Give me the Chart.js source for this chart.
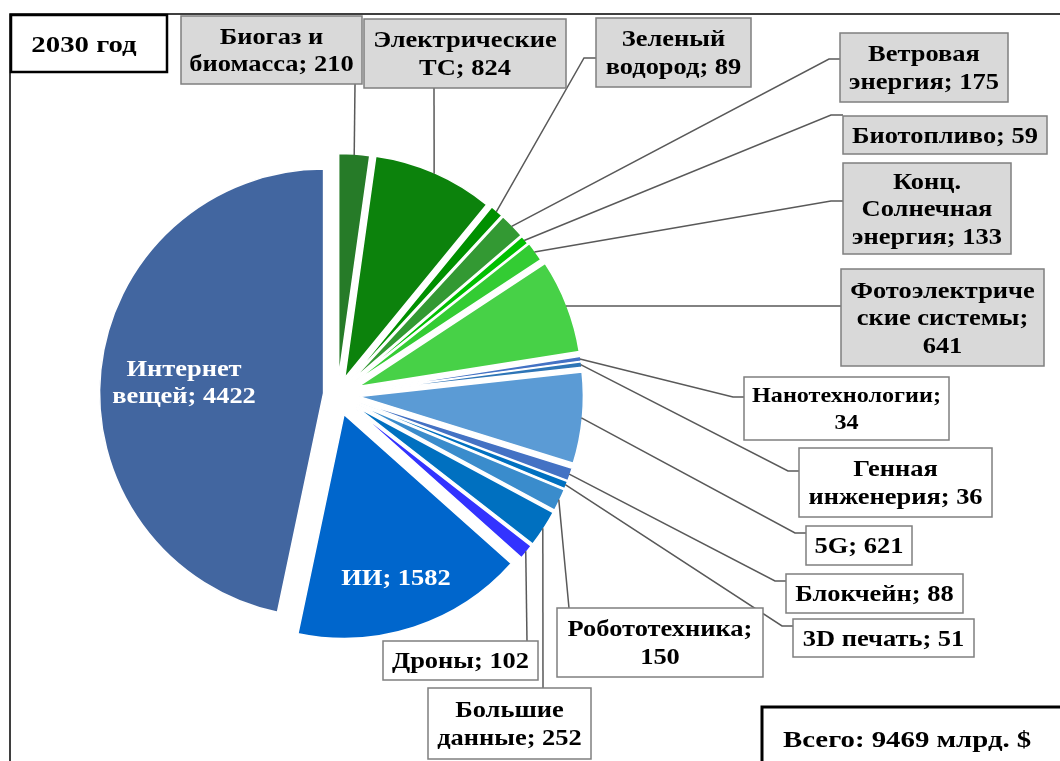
<!DOCTYPE html>
<html>
<head>
<meta charset="utf-8">
<script src="https://cdn.jsdelivr.net/npm/chart.js@4/dist/chart.umd.min.js"></script>
<style>
  body { margin: 0; background: #fff; }
  #wrap { width: 1060px; height: 761px; position: relative; }
</style>
</head>
<body>
<div id="wrap"><canvas id="myChart"></canvas></div>
<script>
// данные, 2030 год, млрд. $
const categories = ['Биогаз и\nбиомасса', 'Электрические\nТС', 'Зеленый\nводород', 'Ветровая\nэнергия',
    'Биотопливо', 'Конц.\nСолнечная\nэнергия', 'Фотоэлектриче\nские системы', 'Нанотехнологии',
    'Генная\nинженерия', '5G', 'Блокчейн', '3D печать', 'Робототехника', 'Большие\nданные',
    'Дроны', 'ИИ', 'Интернет\nвещей'];
const values = [210, 824, 89, 175, 59, 133, 641, 34, 36, 621, 88, 51, 150, 252, 102, 1582, 4422];
const yearLabel = '2030 год';
const totalLabel = 'Всего: 9469 млрд. $';

const colors = ['#267b28', '#0c820c', '#009000', '#339933', '#00c000', '#33cc33', '#47d147',
    '#4472c4', '#2e75b6', '#5b9bd5', '#4472c4', '#0070c0', '#3a8ccc', '#0070c0', '#3333ff',
    '#0066cc', '#4266a0'];
// насколько выдвинут каждый сектор (px)
const shift = [17, 18, 19, 19, 19, 20, 22, 22, 22, 22, 22, 22, 22, 22, 22, 21, 14];

// подписи: рамка, точка излома, конец выноски
const callouts = [
    {box: [181, 16, 181, 68], fill: '#d9d9d9', sep: '; ', end: [355, 84]},
    {box: [364, 19, 202, 69], fill: '#d9d9d9', sep: '; ', end: [434, 88]},
    {box: [596, 18, 155, 69], fill: '#d9d9d9', sep: '; ', elbow: [584, 58], end: [596, 58]},
    {box: [840, 33, 168, 69], fill: '#d9d9d9', sep: '; ', elbow: [829, 59], end: [840, 59]},
    {box: [843, 116, 204, 38], fill: '#d9d9d9', sep: '; ', elbow: [831, 115], end: [843, 115]},
    {box: [843, 163, 168, 91], fill: '#d9d9d9', sep: '; ', elbow: [831, 201], end: [843, 201]},
    {box: [841, 269, 203, 97], fill: '#d9d9d9', sep: ';\n', end: [841, 306]},
    {box: [744, 377, 205, 63], fill: '#fff', sep: ';\n', elbow: [733, 397], end: [744, 397], size: 21},
    {box: [799, 448, 193, 69], fill: '#fff', sep: '; ', elbow: [788, 471], end: [799, 471]},
    {box: [806, 526, 106, 39], fill: '#fff', sep: '; ', elbow: [795, 533], end: [806, 533]},
    {box: [786, 574, 177, 39], fill: '#fff', sep: '; ', elbow: [775, 581], end: [786, 581]},
    {box: [793, 619, 181, 38], fill: '#fff', sep: '; ', elbow: [782, 626], end: [793, 626]},
    {box: [557, 608, 206, 69], fill: '#fff', sep: ';\n', end: [569, 608]},
    {box: [428, 688, 163, 71], fill: '#fff', sep: '; ', end: [543, 688]},
    {box: [383, 641, 155, 39], fill: '#fff', sep: '; ', end: [527, 641]},
    {inside: [396, 577], sep: '; '},
    {inside: [184, 382], sep: '; '}
];

const SERIF = '"Liberation Serif", "Times New Roman", serif';
const LINE_H = 27.5;
const STRETCH = 1.15;

function labelLines(i) {
    return (categories[i] + callouts[i].sep + values[i]).split('\n');
}

function drawLines(ctx, lines, cx, cy, color, size) {
    ctx.save();
    ctx.fillStyle = color;
    ctx.font = 'bold ' + size + 'px ' + SERIF;
    ctx.textAlign = 'center';
    ctx.textBaseline = 'alphabetic';
    const cap = size * 0.66;
    const top = cy - (lines.length - 1) * LINE_H / 2 + cap / 2;
    ctx.translate(cx, 0);
    ctx.scale(STRETCH, 1);
    lines.forEach((s, k) => ctx.fillText(s, 0, top + k * LINE_H));
    ctx.restore();
}

const explode = {
    id: 'explode',
    beforeDraw(chart) {
        const ctx = chart.ctx;
        ctx.save();
        ctx.strokeStyle = '#000';
        ctx.lineWidth = 1.5;
        ctx.strokeRect(10, 14, 1200, 900);
        ctx.restore();
    },
    beforeDatasetDraw(chart, args) {
        const ctx = chart.ctx;
        args.meta.data.forEach((arc, i) => {
            const mid = (arc.startAngle + arc.endAngle) / 2;
            ctx.save();
            ctx.translate(Math.cos(mid) * shift[i], Math.sin(mid) * shift[i]);
            arc.draw(ctx);
            ctx.restore();
        });
        return false;
    },
    afterDatasetsDraw(chart) {
        const ctx = chart.ctx;
        const arcs = chart.getDatasetMeta(0).data;
        ctx.save();
        // выноски
        ctx.strokeStyle = '#595959';
        ctx.lineWidth = 1.5;
        arcs.forEach((arc, i) => {
            const c = callouts[i];
            if (c.inside) return;
            const mid = (arc.startAngle + arc.endAngle) / 2;
            const r = arc.outerRadius + shift[i] - 1;
            ctx.beginPath();
            ctx.moveTo(arc.x + Math.cos(mid) * r, arc.y + Math.sin(mid) * r);
            if (c.elbow) ctx.lineTo(c.elbow[0], c.elbow[1]);
            ctx.lineTo(c.end[0], c.end[1]);
            ctx.stroke();
        });
        // рамки и тексты
        arcs.forEach((arc, i) => {
            const c = callouts[i];
            if (c.inside) {
                drawLines(ctx, labelLines(i), c.inside[0], c.inside[1], '#fff', 23);
                return;
            }
            const [x, y, w, h] = c.box;
            ctx.fillStyle = c.fill;
            ctx.fillRect(x, y, w, h);
            ctx.strokeStyle = '#7f7f7f';
            ctx.lineWidth = 1.5;
            ctx.strokeRect(x, y, w, h);
            drawLines(ctx, labelLines(i), x + w / 2, y + h / 2, '#000', c.size || 23);
        });
        // год и итог
        ctx.fillStyle = '#fff';
        ctx.strokeStyle = '#000';
        ctx.lineWidth = 2.5;
        ctx.fillRect(11, 15, 156, 57);
        ctx.strokeRect(11, 15, 156, 57);
        ctx.fillStyle = '#000';
        ctx.font = 'bold 24px ' + SERIF;
        ctx.textBaseline = 'alphabetic';
        ctx.textAlign = 'center';
        ctx.save();
        ctx.translate(84, 0);
        ctx.scale(1.2, 1);
        ctx.fillText(yearLabel, 0, 52);
        ctx.restore();
        ctx.fillStyle = '#fff';
        ctx.lineWidth = 3;
        ctx.fillRect(762, 707, 400, 100);
        ctx.strokeRect(762, 707, 400, 100);
        ctx.fillStyle = '#000';
        ctx.textAlign = 'left';
        ctx.save();
        ctx.translate(783, 0);
        ctx.scale(1.2, 1);
        ctx.fillText(totalLabel, 0, 747);
        ctx.restore();
        ctx.restore();
    }
};

const data = {
    labels: categories.map(s => s.replace(/\n/g, ' ')),
    datasets: [{
        data: values,
        backgroundColor: colors,
        borderColor: '#fff',
        borderWidth: 1.5
    }]
};

const config = {
    type: 'pie',
    data: data,
    options: {
        responsive: true,
        maintainAspectRatio: false,
        animation: false,
        radius: 224,
        layout: {padding: {left: 0, right: 385, top: 28, bottom: 0}},
        plugins: {
            legend: {display: false},
            tooltip: {enabled: false}
        }
    },
    plugins: [explode]
};

const myChart = new Chart(document.getElementById('myChart'), config);
</script>
</body>
</html>
